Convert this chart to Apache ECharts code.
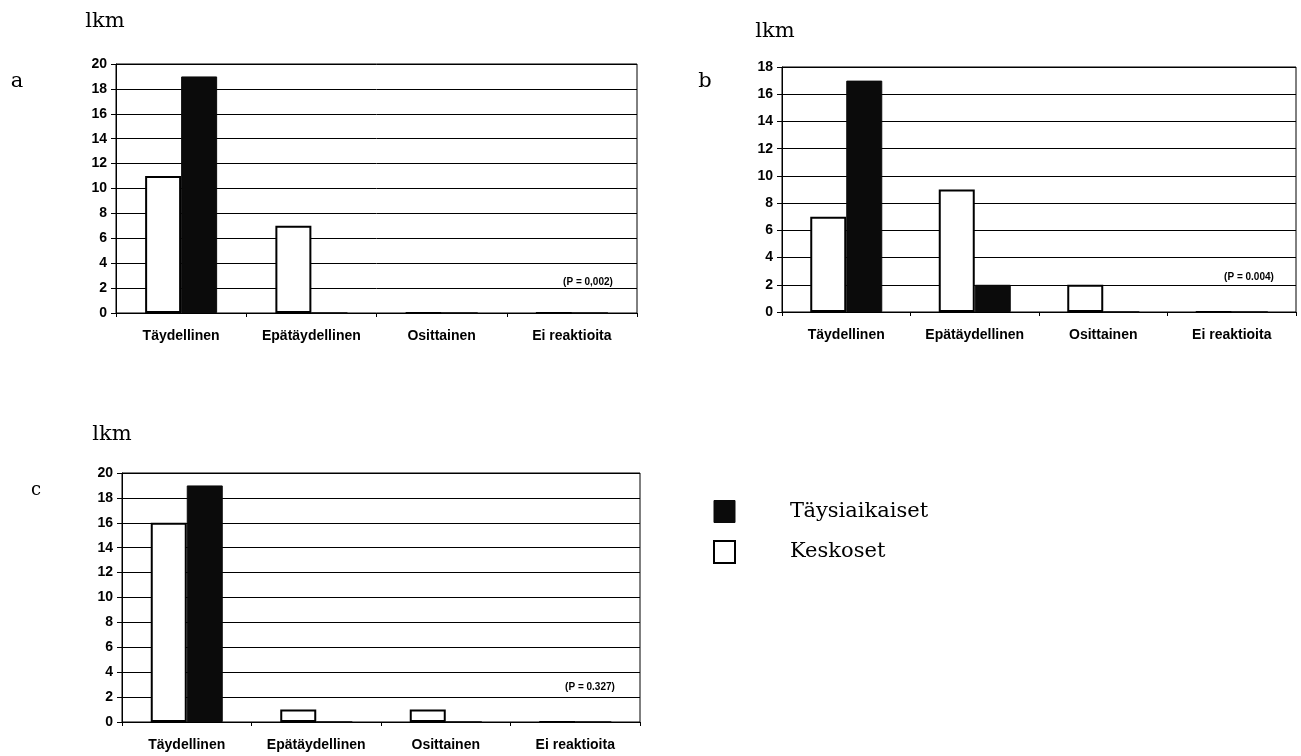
<!DOCTYPE html>
<html>
<head>
<meta charset="utf-8">
<script src="https://cdn.jsdelivr.net/npm/echarts@6/dist/echarts.min.js"></script>
<style>
  html, body { margin: 0; padding: 0; background: #fff; }
  #chart { width: 1301px; height: 756px; }
</style>
</head>
<body>
<div id="chart"></div>
<script>
// luokat (x-akseli)
const categories = ["Täydellinen", "Epätäydellinen", "Osittainen", "Ei reaktioita"];

// paneeli a
const keskosetA = [11, 7, 0, 0];
const taysiA = [19, 0, 0, 0];
// paneeli b
const keskosetB = [7, 9, 2, 0];
const taysiB = [17, 2, 0, 0];
// paneeli c
const keskosetC = [16, 1, 1, 0];
const taysiC = [19, 0, 0, 0];

const yMax = [20, 18, 20];
const pValues = ["(P = 0,002)", "(P = 0.004)", "(P = 0.327)"];
const panelNames = ["a", "b", "c"];

const chart = echarts.init(document.getElementById("chart"));

const grids = [
  { left: 116, top: 64, width: 521, height: 249 },
  { left: 782, top: 67, width: 514, height: 245 },
  { left: 122, top: 473, width: 518, height: 249 }
];

const sansLabel = { color: "#000", fontFamily: "Liberation Sans", fontSize: 14, fontWeight: "bold" };

const whiteStyle = { color: "#fff", borderColor: "#000", borderWidth: 2 };
const blackStyle = { color: "#0b0b0b", borderColor: "#0b0b0b", borderWidth: 1 };

function xAxisFor(i) {
  return {
    type: "category",
    gridIndex: i,
    data: categories,
    axisLine: { lineStyle: { color: "#000", width: 1 } },
    axisTick: { show: true, length: 4, lineStyle: { color: "#000" } },
    axisLabel: Object.assign({ margin: 16 }, sansLabel)
  };
}

function yAxisFor(i) {
  return {
    type: "value",
    gridIndex: i,
    min: 0,
    max: yMax[i],
    interval: 2,
    axisLine: { show: true, lineStyle: { color: "#000", width: 1 } },
    axisTick: { show: true, length: 5, lineStyle: { color: "#000" } },
    axisLabel: Object.assign({ margin: 9 }, sansLabel),
    splitLine: { show: true, lineStyle: { color: "#000", width: 1 } }
  };
}

function barSeries(name, data, idx, style) {
  return {
    name: name,
    type: "bar",
    xAxisIndex: idx,
    yAxisIndex: idx,
    data: data,
    barWidth: 36,
    barGap: "0%",
    itemStyle: style,
    emphasis: { disabled: true }
  };
}

const keskoset = [keskosetA, keskosetB, keskosetC];
const taysi = [taysiA, taysiB, taysiC];
const series = [];
for (let i = 0; i < 3; i++) {
  series.push(barSeries("Keskoset", keskoset[i], i, whiteStyle));
  series.push(barSeries("Täysiaikaiset", taysi[i], i, blackStyle));
}

function txt(text, x, y, font, align) {
  return {
    type: "text",
    x: x,
    y: y,
    style: {
      text: text,
      fill: "#000",
      font: font,
      align: align || "center",
      verticalAlign: "middle"
    }
  };
}

const serif = '"DejaVu Serif", "Liberation Serif", serif';

const option = {
  backgroundColor: "#fff",
  animation: false,
  grid: grids.map(g => Object.assign({ show: true, borderColor: "#000", borderWidth: 1, backgroundColor: "#fff" }, g)),
  xAxis: [0, 1, 2].map(xAxisFor),
  yAxis: [0, 1, 2].map(yAxisFor),
  legend: {
    orient: "vertical",
    left: 713,
    top: 500,
    padding: 0,
    itemWidth: 21,
    itemHeight: 22,
    itemGap: 17,
    icon: "rect",
    selectedMode: false,
    textStyle: { color: "#000", fontFamily: serif, fontSize: 21, padding: [0, 0, 0, 50] },
    data: [
      { name: "Täysiaikaiset", itemStyle: blackStyle },
      { name: "Keskoset", itemStyle: whiteStyle }
    ]
  },
  graphic: [
    txt("lkm", 105, 22, "21px " + serif),
    txt("lkm", 775, 32, "21px " + serif),
    txt("lkm", 112, 435, "21px " + serif),
    txt(panelNames[0], 17, 82, "21px " + serif),
    txt(panelNames[1], 705, 82, "21px " + serif),
    txt(panelNames[2], 36, 490, "18px " + serif),
    txt(pValues[0], 588, 282, 'bold 10px "Liberation Sans"'),
    txt(pValues[1], 1249, 277, 'bold 10px "Liberation Sans"'),
    txt(pValues[2], 590, 687, 'bold 10px "Liberation Sans"')
  ],
  series: series
};

chart.setOption(option);
</script>
</body>
</html>
